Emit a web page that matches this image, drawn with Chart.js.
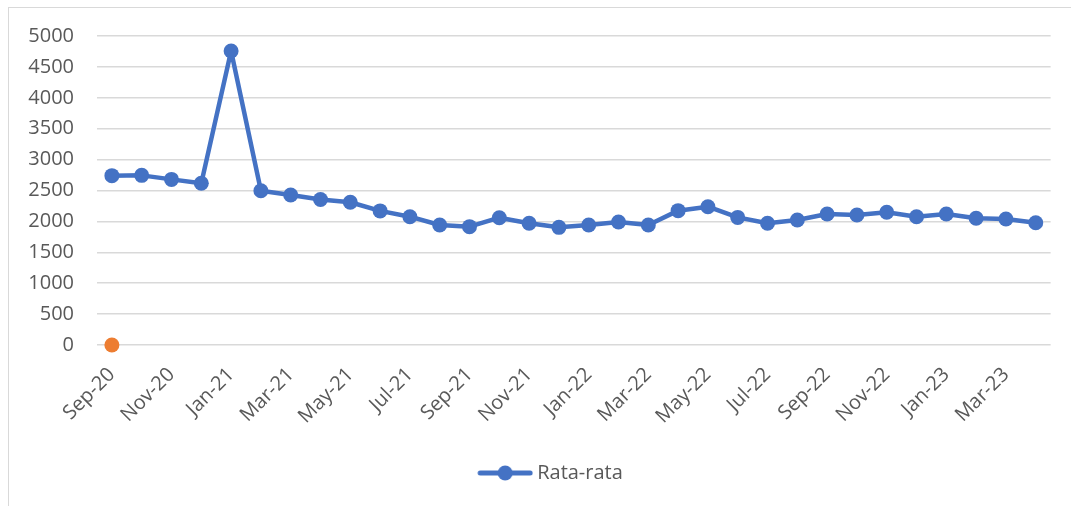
<!DOCTYPE html>
<html>
<head>
<meta charset="utf-8">
<script src="https://cdn.jsdelivr.net/npm/chart.js@4.4.1/dist/chart.umd.min.js"></script>
<style>
  html, body { margin: 0; padding: 0; background: #ffffff; }
  #wrap { position: relative; width: 1071px; height: 506px; overflow: hidden; }
  #frame { position: absolute; left: 8px; top: 7px; width: 1080px; height: 520px; border: 1px solid #D9D9D9; box-sizing: border-box; }
  canvas { position: absolute; left: 0; top: 0; }
</style>
</head>
<body>
<div id="wrap">
  <div id="frame"></div>
  <canvas id="c" width="1071" height="506"></canvas>
</div>
<script>
const categories = [
  'Sep-20','Oct-20','Nov-20','Dec-20','Jan-21','Feb-21','Mar-21','Apr-21','May-21','Jun-21',
  'Jul-21','Aug-21','Sep-21','Oct-21','Nov-21','Dec-21','Jan-22','Feb-22','Mar-22','Apr-22',
  'May-22','Jun-22','Jul-22','Aug-22','Sep-22','Oct-22','Nov-22','Dec-22','Jan-23','Feb-23',
  'Mar-23','Apr-23'
];
const rataRata = [
  2740, 2745, 2680, 2618, 4758, 2495, 2428, 2355, 2310, 2170,
  2076, 1942, 1915, 2060, 1969, 1904, 1942, 1990, 1942, 2174,
  2238, 2065, 1969, 2023, 2120, 2104, 2147, 2076, 2120, 2050,
  2039, 1979
];
const seriesB = [0];  // single orange point at the first category
const yTicks = [0, 500, 1000, 1500, 2000, 2500, 3000, 3500, 4000, 4500, 5000];

const FONT = "'Open Sans', 'Noto Sans', sans-serif";
const TEXT = '#595959';
const BLUE = '#4472C4';
const ORANGE = '#ED7D31';

// legend marker: line with a circle (left part transparent, used to position the item)
const marker = document.createElement('canvas');
marker.width = 110; marker.height = 18;
(function () {
  const g = marker.getContext('2d');
  g.strokeStyle = BLUE; g.lineWidth = 5; g.lineCap = 'round';
  g.beginPath(); g.moveTo(57, 9); g.lineTo(107, 9); g.stroke();
  g.fillStyle = BLUE; g.beginPath(); g.arc(82, 9, 7.5, 0, Math.PI * 2); g.fill();
})();

const orangeData = categories.map((c, i) => (i < seriesB.length ? seriesB[i] : null));

new Chart(document.getElementById('c'), {
  type: 'line',
  data: {
    labels: categories,
    datasets: [
      {
        label: 'Rata-rata',
        data: rataRata,
        borderColor: BLUE,
        backgroundColor: BLUE,
        borderWidth: 4.5,
        borderJoinStyle: 'round',
        borderCapStyle: 'round',
        pointRadius: 7.5,
        pointHoverRadius: 7.5,
        pointBorderWidth: 0,
        pointBackgroundColor: BLUE,
        tension: 0,
        clip: false,
        order: 2
      },
      {
        label: '',
        data: orangeData,
        showLine: false,
        borderColor: ORANGE,
        backgroundColor: ORANGE,
        pointRadius: 7.5,
        pointBorderWidth: 0,
        pointBackgroundColor: ORANGE,
        clip: false,
        order: 1
      }
    ]
  },
  options: {
    responsive: false,
    animation: false,
    devicePixelRatio: 1,
    layout: { padding: { top: 36, right: 19, bottom: 13, left: 0 } },
    plugins: {
      tooltip: { enabled: false },
      legend: {
        position: 'bottom',
        labels: {
          usePointStyle: true,
          pointStyleWidth: 98,
          color: TEXT,
          font: { family: FONT, size: 20 },
          padding: 10,
          generateLabels: (chart) => [{
            text: 'Rata-rata',
            fillStyle: BLUE,
            strokeStyle: BLUE,
            fontColor: TEXT,
            pointStyle: marker,
            lineWidth: 0,
            hidden: false,
            datasetIndex: 0
          }]
        }
      }
    },
    scales: {
      x: {
        offset: true,
        grid: { display: false, drawTicks: false },
        border: { display: false },
        ticks: {
          autoSkip: false,
          maxRotation: 45,
          minRotation: 45,
          padding: 18,
          color: TEXT,
          font: { family: FONT, size: 20 },
          callback: function (val, idx) { return idx % 2 === 0 ? this.getLabelForValue(val) : ''; }
        },
        afterFit: (s) => { s.height = 108; }
      },
      y: {
        min: 0,
        max: 5000,
        afterBuildTicks: (s) => { s.ticks = yTicks.map(v => ({ value: v })); },
        grid: { color: '#D9D9D9', lineWidth: 1.5, drawTicks: false },
        border: { display: false },
        ticks: {
          padding: 23,
          color: TEXT,
          font: { family: FONT, size: 20 },
          callback: (v) => String(v)
        },
        afterFit: (s) => { s.width = 97; }
      }
    }
  }
});
</script>
</body>
</html>
